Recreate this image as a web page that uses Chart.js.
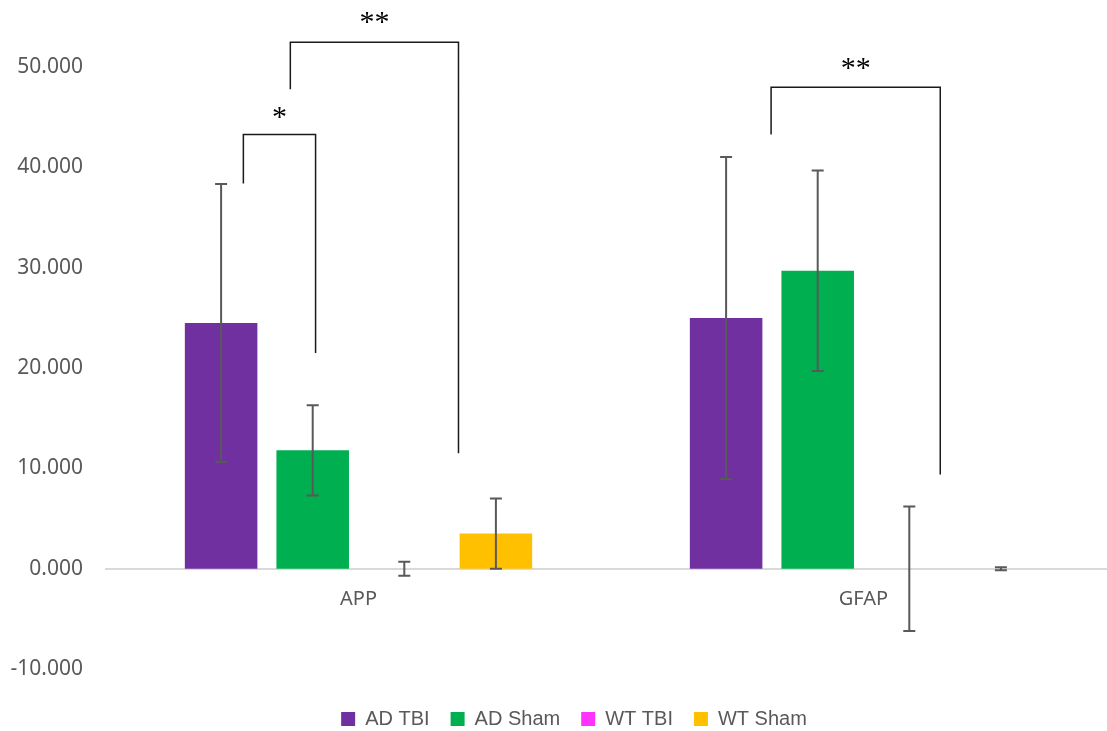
<!DOCTYPE html>
<html>
<head>
<meta charset="utf-8">
<script src="https://cdn.jsdelivr.net/npm/chart.js@4.4.1/dist/chart.umd.min.js"></script>
<style>
  html, body { margin: 0; background: #fff; overflow: hidden; }
</style>
</head>
<body>
<canvas id="chart" width="1116" height="731"></canvas>
<script>
// data
const categories = ['APP', 'GFAP'];
const seriesNames = ['AD TBI', 'AD Sham', 'WT TBI', 'WT Sham'];
const seriesColors = ['#7030A0', '#00B050', '#FF33FF', '#FFC000'];

const adTbi = [24.5, 25.0];
const adSham = [11.8, 29.7];
const wtTbi = [0, 0];
const wtSham = [3.5, 0];

const adTbiErr = [13.85, 16.05];
const adShamErr = [4.5, 10.0];
const wtTbiErr = [0.7, 6.2];
const wtShamErr = [3.5, 0.15];

const yTicks = [-10, 0, 10, 20, 30, 40, 50];

// significance brackets: x in category units, y in data units
const brackets = [
    { x1: -0.228, x2: -0.085, leg1: 38.4, top: 43.3, leg2: 21.5, label: '*', labelY: 45.5 },
    { x1: -0.135, x2: 0.198, leg1: 47.8, top: 52.5, leg2: 11.5, label: '**', labelY: 55.0 },
    { x1: 0.817, x2: 1.152, leg1: 43.3, top: 48.0, leg2: 9.4, label: '**', labelY: 50.4 }
];

const seriesValues = [adTbi, adSham, wtTbi, wtSham];
const seriesErrors = [adTbiErr, adShamErr, wtTbiErr, wtShamErr];

const errorBars = {
    id: 'errorBars',
    afterDatasetsDraw(chart) {
        const ctx = chart.ctx;
        const y = chart.scales.y;
        ctx.save();
        ctx.strokeStyle = '#595959';
        ctx.lineWidth = 2;
        chart.data.datasets.forEach((ds, i) => {
            chart.getDatasetMeta(i).data.forEach((bar, j) => {
                const v = ds.data[j], e = seriesErrors[i][j];
                const top = y.getPixelForValue(v + e);
                const bot = y.getPixelForValue(v - e);
                ctx.beginPath();
                ctx.moveTo(bar.x, top); ctx.lineTo(bar.x, bot);
                ctx.moveTo(bar.x - 6, top); ctx.lineTo(bar.x + 6, top);
                ctx.moveTo(bar.x - 6, bot); ctx.lineTo(bar.x + 6, bot);
                ctx.stroke();
            });
        });
        ctx.restore();
    }
};

const sigBrackets = {
    id: 'sigBrackets',
    afterDraw(chart) {
        const ctx = chart.ctx;
        const x = chart.scales.x, y = chart.scales.y;
        ctx.save();
        ctx.strokeStyle = '#1a1a1a';
        ctx.lineWidth = 1.5;
        ctx.fillStyle = '#000';
        ctx.font = '30px "Liberation Serif", serif';
        ctx.textAlign = 'center';
        ctx.textBaseline = 'middle';
        brackets.forEach(b => {
            const px1 = x.getPixelForValue(b.x1), px2 = x.getPixelForValue(b.x2);
            ctx.beginPath();
            ctx.moveTo(px1, y.getPixelForValue(b.leg1));
            ctx.lineTo(px1, y.getPixelForValue(b.top));
            ctx.lineTo(px2, y.getPixelForValue(b.top));
            ctx.lineTo(px2, y.getPixelForValue(b.leg2));
            ctx.stroke();
            ctx.fillText(b.label, (px1 + px2) / 2, y.getPixelForValue(b.labelY) + 6);
        });
        ctx.restore();
    }
};

// move the legend a little, as in the original
const legendShift = {
    id: 'legendShift',
    afterLayout(chart) {
        const lg = chart.legend;
        lg.left += 16; lg.right += 16;
        lg.top += 19; lg.bottom += 19;
    }
};

new Chart(document.getElementById('chart'), {
    type: 'bar',
    data: {
        labels: categories,
        datasets: seriesNames.map((name, i) => ({
            label: name,
            data: seriesValues[i],
            backgroundColor: seriesColors[i],
            borderWidth: 0,
            categoryPercentage: 0.7255,
            barPercentage: 0.792
        }))
    },
    options: {
        responsive: false,
        animation: false,
        devicePixelRatio: 1,
        layout: { padding: { left: 0, right: 0, top: 0, bottom: 11 } },
        font: { family: '"Noto Sans", sans-serif' },
        plugins: {
            legend: {
                position: 'bottom',
                labels: {
                    boxWidth: 14,
                    boxHeight: 14,
                    padding: 21,
                    color: '#595959',
                    font: { size: 20 }
                }
            },
            tooltip: { enabled: false }
        },
        scales: {
            x: {
                position: { y: 0 },
                grid: { display: false, drawTicks: false },
                border: { display: true, color: '#d9d9d9', width: 2 },
                afterFit(s) { s.paddingLeft = 0; s.paddingRight = 0; },
                ticks: { color: '#595959', font: { size: 20 }, padding: 19 }
            },
            y: {
                min: -10,
                max: 56.7,
                grid: { display: false, drawTicks: false },
                border: { display: false },
                afterFit(s) { s.width = 106; s.paddingTop = 0; s.paddingBottom = 0; },
                afterBuildTicks(s) { s.ticks = yTicks.map(v => ({ value: v })); },
                ticks: {
                    color: '#595959',
                    font: { size: 21 },
                    padding: 23,
                    callback: v => v.toFixed(3)
                }
            }
        }
    },
    plugins: [errorBars, sigBrackets, legendShift]
});
</script>
</body>
</html>
